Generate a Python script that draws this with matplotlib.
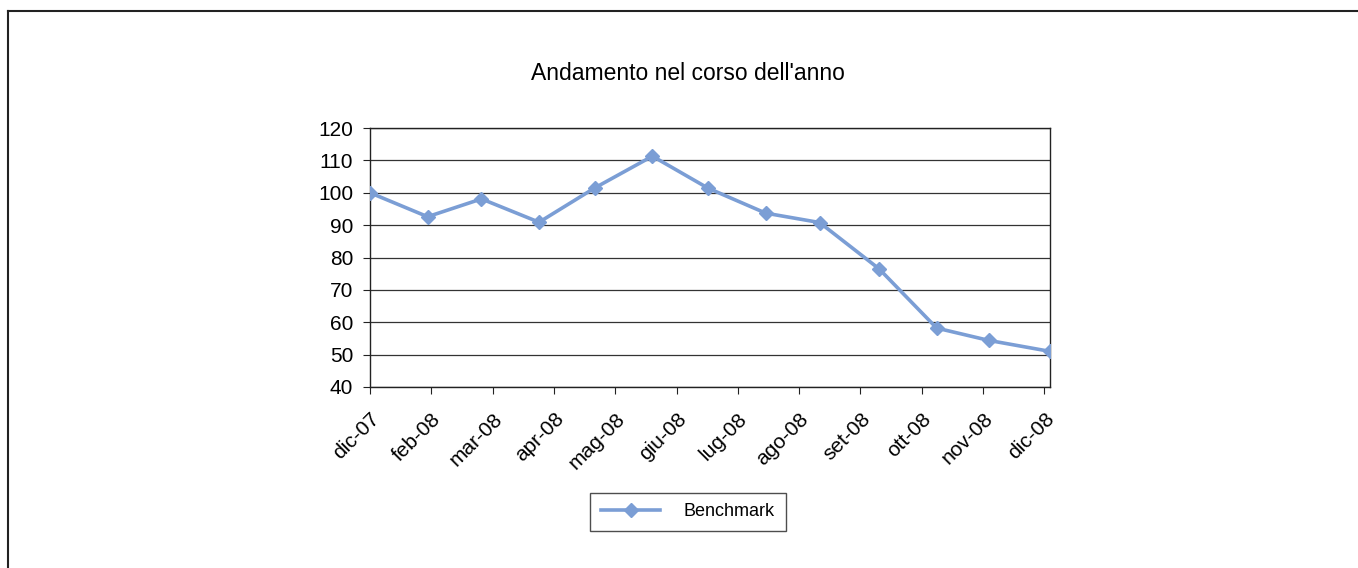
import datetime as dt
import matplotlib
matplotlib.use("Agg")
import matplotlib.pyplot as plt
from matplotlib.lines import Line2D

plt.rcParams['font.family'] = ['Liberation Sans', 'DejaVu Sans']

# dati
date_str = ["2007-12-31", "2008-01-31", "2008-02-29", "2008-03-31", "2008-04-30",
            "2008-05-31", "2008-06-30", "2008-07-31", "2008-08-29", "2008-09-30",
            "2008-10-31", "2008-11-28", "2008-12-31"]
benchmark = [100.0, 92.6, 98.1, 90.9, 101.5, 111.3, 101.4, 93.7, 90.8, 76.5, 58.2, 54.4, 51.0]
mesi = ["gen", "feb", "mar", "apr", "mag", "giu", "lug", "ago", "set", "ott", "nov", "dic"]

date = [dt.datetime.strptime(d, "%Y-%m-%d") for d in date_str]
col = "#7B9ED5"

fig = plt.figure(figsize=(13.58, 5.68), dpi=100)
ax = fig.add_axes([370 / 1358, 1 - 387 / 568, 680 / 1358, 259 / 568])

ax.plot(date, benchmark, color=col, lw=2.6, marker='D', ms=7, mec=col, mfc=col, zorder=3)

ax.set_ylim(40, 120)
ax.set_yticks(range(40, 121, 10))
ax.set_xlim(date[0], date[-1])
# asse date: tacche ogni 33 giorni come in Excel
tick_date = [date[0] + dt.timedelta(days=33 * i) for i in range(12)]
ax.set_xticks(tick_date)
ax.set_xticklabels([f"{mesi[d.month - 1]}-{d.strftime('%y')}" for d in tick_date],
                   rotation=45, ha='right', rotation_mode='anchor')
ax.grid(axis='y', color='#333333', lw=0.9)
ax.set_axisbelow(True)
for s in ax.spines.values():
    s.set_color('#222222')
    s.set_linewidth(1.0)
ax.tick_params(axis='both', labelsize=15, length=5, color='#222222', direction='out')
ax.tick_params(axis='x', pad=11)
ax.tick_params(axis='y', pad=7)

fig.text(688 / 1358, 1 - 74 / 568, "Andamento nel corso dell'anno", ha='center', va='center', fontsize=16.5)

handle = Line2D([], [], color=col, lw=2.6, marker='D', ms=7, mec=col, mfc=col)
leg = fig.legend([handle], ["Benchmark"], loc='center', bbox_to_anchor=(688 / 1358, 1 - 512 / 568),
                 fontsize=13, frameon=True, fancybox=False, handlelength=3.3, borderpad=0.6,
                 handletextpad=1.3, borderaxespad=0)
leg.get_frame().set_edgecolor('#222222')
leg.get_frame().set_linewidth(1.0)

# bordo esterno del grafico
fig.add_artist(Line2D([8 / 1358, 1], [1 - 11 / 568, 1 - 11 / 568], transform=fig.transFigure, color='#222222', lw=1.5))
fig.add_artist(Line2D([8 / 1358, 8 / 1358], [0, 1 - 11 / 568], transform=fig.transFigure, color='#222222', lw=1.5))

fig.savefig("out.png", dpi=100)
